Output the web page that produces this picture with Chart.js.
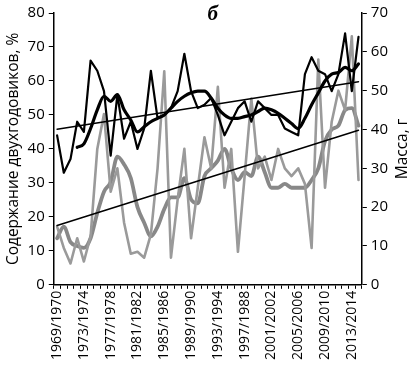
<!DOCTYPE html>
<html>
<head>
<meta charset="utf-8">
<script src="https://cdn.jsdelivr.net/npm/chart.js@4/dist/chart.umd.min.js"></script>
<style>
  html, body { margin: 0; padding: 0; background: #fff; }
  #wrap { width: 413px; height: 368px; }
</style>
</head>
<body>
<div id="wrap"><canvas id="chart"></canvas></div>
<script>
const seasons = [
    "1969/1970", "1970/1971", "1971/1972", "1972/1973", "1973/1974", "1974/1975",
    "1975/1976", "1976/1977", "1977/1978", "1978/1979", "1979/1980", "1980/1981",
    "1981/1982", "1982/1983", "1983/1984", "1984/1985", "1985/1986", "1986/1987",
    "1987/1988", "1988/1989", "1989/1990", "1990/1991", "1991/1992", "1992/1993",
    "1993/1994", "1994/1995", "1995/1996", "1996/1997", "1997/1988", "1998/1999",
    "1999/2000", "2000/2001", "2001/2002", "2002/2003", "2003/2004", "2004/2005",
    "2005/2006", "2006/2007", "2007/2008", "2008/2009", "2009/2010", "2010/2011",
    "2011/2012", "2012/2013", "2013/2014", "2014/2015"
];

// share of two-year-olds, %
const share = [44, 33, 37, 48, 45, 66, 63, 57, 38, 56, 43, 48, 40, 46, 63, 49,
    50, 52, 57, 68, 57, 52, 53, 55, 50, 44, 48, 52, 54, 48, 54, 52,
    50, 50, 46, 45, 44, 62, 67, 63, 62, 57, 62, 74, 57, 73];
const shareAvg = [null, null, null, 40.5, 41.5, 46, 51.5, 55.5, 54, 56, 51.5, 48.5, 45, 46.5, 48, 49,
    50, 52, 54, 55.5, 56.5, 57, 57, 55, 52, 50, 49, 49, 49.5, 50, 51, 52,
    51.5, 50.5, 49, 47.5, 46, 49, 53, 56.5, 60, 62, 62.5, 64, 63, 65];
const shareTrend = [45.8, 59.8];

// mass, g
const mass = [15, 9.5, 5.5, 12, 6, 12.5, 35, 44, 24, 30, 16, 8, 8.5, 7, 13, 30,
    55, 7, 22, 35, 12, 25, 38, 30, 51, 25, 35, 8.5, 28, 48, 30, 33,
    27, 35, 30, 28, 30, 26, 9.5, 58, 25, 42, 50, 45, 64, 27];
const massAvg = [12, 15, 11, 10, 9.5, 12, 18.5, 24, 26.5, 33, 31, 27.5, 20, 16, 12.5, 15,
    19.5, 22.5, 22.5, 27.5, 22, 21, 28, 30, 32, 35, 30, 27, 29, 28, 33, 29,
    25, 25, 26, 25, 25, 25, 27, 30, 37, 40, 41, 45, 45.5, 41];
const massTrend = [15.3, 39.8];

const panelTitle = "б";
const leftTitle = "Содержание двухгодовиков, %";
const rightTitle = "Масса, г";

const font = "'Open Sans'";

function trendData(ends) {
    const arr = seasons.map(() => null);
    arr[0] = ends[0];
    arr[arr.length - 1] = ends[1];
    return arr;
}

const extraText = {
    id: "extraText",
    afterDraw(chart) {
        const ctx = chart.ctx;
        const area = chart.chartArea;
        ctx.save();
        ctx.fillStyle = "#000";
        ctx.textAlign = "center";
        ctx.textBaseline = "middle";
        ctx.font = "bold italic 21px 'Liberation Serif'";
        ctx.fillText(panelTitle, (area.left + area.right) / 2 + 5, area.top + 2);
        ctx.font = "15.5px " + font;
        ctx.translate(chart.width - 10, (area.top + area.bottom) / 2);
        ctx.rotate(-Math.PI / 2);
        ctx.fillText(rightTitle, 0, 0);
        ctx.restore();
    }
};

const ctx = document.getElementById("chart");

new Chart(ctx, {
    type: "line",
    data: {
        labels: seasons,
        datasets: [{
            data: trendData(shareTrend),
            yAxisID: "y",
            borderColor: "#000",
            borderWidth: 1.5,
            spanGaps: true
        }, {
            data: trendData(massTrend),
            yAxisID: "y1",
            borderColor: "#000",
            borderWidth: 1.5,
            spanGaps: true
        }, {
            data: share,
            yAxisID: "y",
            borderColor: "#000",
            borderWidth: 2.2
        }, {
            data: shareAvg,
            yAxisID: "y",
            borderColor: "#000",
            borderWidth: 3.2,
            cubicInterpolationMode: "monotone"
        }, {
            data: mass,
            yAxisID: "y1",
            borderColor: "#9a9a9a",
            borderWidth: 2.6
        }, {
            data: massAvg,
            yAxisID: "y1",
            borderColor: "#888888",
            borderWidth: 3.8,
            cubicInterpolationMode: "monotone"
        }]
    },
    options: {
        responsive: true,
        maintainAspectRatio: false,
        animation: false,
        layout: { padding: { top: 4, right: 21, left: 3, bottom: 6 } },
        elements: { point: { radius: 0 }, line: { borderJoinStyle: "round", borderCapStyle: "round" } },
        plugins: { legend: { display: false }, tooltip: { enabled: false } },
        scales: {
            x: {
                offset: true,
                grid: { offset: true, drawOnChartArea: false, drawTicks: true, tickLength: 4, color: "#000", lineWidth: 1 },
                border: { color: "#000", width: 1.5 },
                ticks: {
                    autoSkip: false,
                    maxRotation: 90,
                    minRotation: 90,
                    color: "#000",
                    padding: 2,
                    font: { family: font, size: 14 },
                    callback: (v, i) => (i % 4 === 0 ? seasons[i] : "")
                }
            },
            y: {
                position: "left",
                min: 0,
                max: 80,
                grid: { drawOnChartArea: false, tickLength: 5, color: "#000" },
                border: { color: "#000", width: 1.5 },
                ticks: { stepSize: 10, color: "#000", padding: 4, font: { family: font, size: 15 } },
                title: { display: true, text: leftTitle, color: "#000", padding: 1, font: { family: font, size: 15.5 } }
            },
            y1: {
                position: "right",
                min: 0,
                max: 70,
                grid: { drawOnChartArea: false, tickLength: 5, color: "#000" },
                border: { color: "#000", width: 1.5 },
                ticks: { stepSize: 10, color: "#000", padding: 4, font: { family: font, size: 15 } }
            }
        }
    },
    plugins: [extraText]
});
</script>
</body>
</html>
